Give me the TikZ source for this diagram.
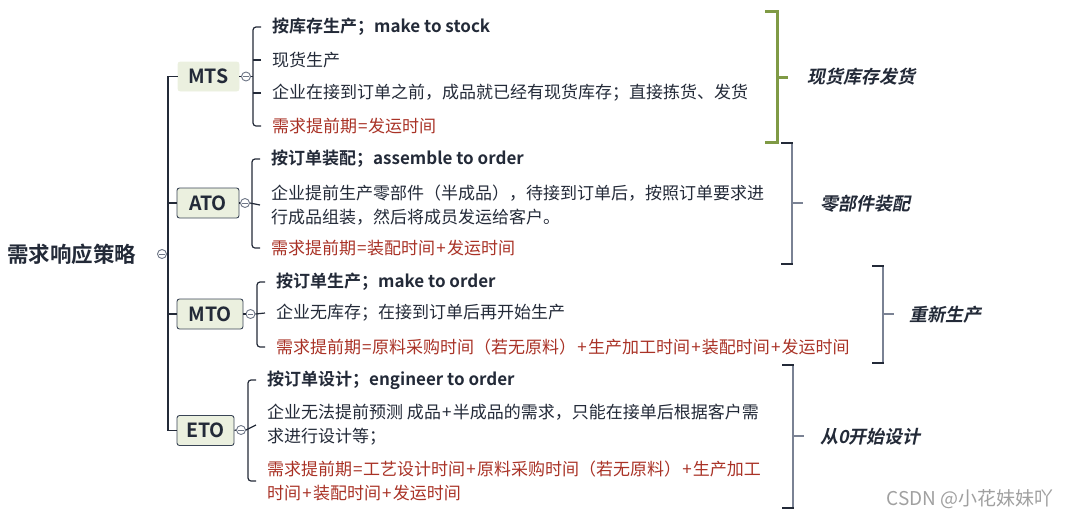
\documentclass[tikz,border=0pt]{standalone}
\usepackage{fontspec}
\setmainfont{Noto Sans CJK SC}[BoldFont={Noto Sans CJK SC Bold}]
\newfontfamily\sumfont{Noto Sans CJK SC Bold}[FakeSlant=0.2]
\usetikzlibrary{calc}
\newcommand\pl{\kern1.2pt+\kern1.2pt}
\newcommand\eq{\kern0.8pt=\kern0.8pt}
\definecolor{txt}{HTML}{232A38}
\definecolor{redtxt}{HTML}{A93226}
\definecolor{boxfill}{HTML}{EBF0DF}
\definecolor{boxline}{HTML}{3A4556}
\definecolor{greenbr}{HTML}{7F9A45}
\definecolor{graybr}{HTML}{7A8294}
\definecolor{collc}{HTML}{6E7686}
\definecolor{wm}{HTML}{A0A0A0}
\begin{document}
\begin{tikzpicture}[x=1pt,y=-1pt,
  ln/.style={draw=txt, line width=1.2pt},
  body/.style={anchor=west, inner sep=0pt, text=txt, align=left, font=\fontsize{17}{24}\selectfont},
  ttl/.style={body, font=\bfseries\fontsize{17}{24}\selectfont},
  redt/.style={body, text=redtxt},
  box/.style={draw=boxline, fill=boxfill, rounded corners=2.5pt, line width=0.9pt, inner sep=0pt, text=txt, font=\bfseries\fontsize{19.5}{20}\selectfont},
  coll/.style={circle, draw=collc, fill=white, line width=0.9pt, minimum size=9pt, inner sep=0pt,
    path picture={\draw[collc, line width=0.9pt] ([xshift=-2.8pt]path picture bounding box.center) -- ([xshift=2.8pt]path picture bounding box.center);}},
  sumt/.style={anchor=west, inner sep=0pt, text=txt, font=\sumfont\fontsize{18}{20}\selectfont},
  capdark/.style={draw=txt, line width=1.2pt},
  vgray/.style={draw=graybr, line width=1.4pt},
  gbr/.style={draw=greenbr, line width=3pt}
]
\useasboundingbox (0,0) rectangle (1071,520);

% root
\node[anchor=west, inner sep=0pt, text=txt, font=\bfseries\fontsize{21.5}{24}\selectfont] (root) at (7,254) {需求响应策略};
\node[coll] (rc) at (162,254) {};
\coordinate (tk) at (168,254);

% category boxes
\node[box, draw=boxfill, minimum width=61pt, minimum height=29pt] (mts) at (208.5,76.5) {MTS};
\node[box, minimum width=62pt, minimum height=30pt] (ato) at (208,203) {ATO};
\node[box, minimum width=66pt, minimum height=30pt] (mto) at (210,314) {MTO};
\node[box, minimum width=57pt, minimum height=30pt] (eto) at (205.5,430.5) {ETO};

% trunk
\draw[ln] (rc.east) -- (tk);
\draw[ln] (mts.west) -- (mts.west -| tk) -- (eto.west -| tk) -- (eto.west);
\draw[ln] (ato.west) -- (ato.west -| tk);
\draw[ln] (mto.west) -- (mto.west -| tk);

% collapse circles
\node[coll] (c1) at (246,76.5) {};
\node[coll] (c2) at (245,203) {};
\node[coll] (c3) at (250.5,314) {};
\node[coll] (c4) at (241,430) {};
\draw[ln] (mts.east) -- (c1.west);
\draw[ln] (ato.east) -- (c2.west);
\draw[ln] (mto.east) -- (c3.west);
\draw[ln] (eto.east) -- (c4.west);

% MTS texts
\node[ttl] (m1) at (272,27) {按库存生产；make to stock};
\node[body] (m2) at (272,60) {现货生产};
\node[body] (m3) at (272,93) {企业在接到订单之前，成品就已经有现货库存；直接拣货、发货};
\node[redt] (m4) at (272,126) {需求提前期\eq 发运时间};
\draw[ln, rounded corners=3pt] ($(m1.west)+(-11,0)$) -- ++(-8,0) |- ($(m4.west)+(-11,0)$);
\draw[ln] ($(m2.west)+(-11,0)$) -- ++(-8,0);
\draw[ln] ($(m3.west)+(-11,0)$) -- ++(-8,0);
\draw[ln] (c1.east) -- (c1.east -| 253,0);

% ATO texts
\node[ttl] (a1) at (271,159) {按订单装配；assemble to order};
\node[body] (a2) at (271,205) {企业提前生产零部件（半成品），待接到订单后，按照订单要求进\\行成品组装，然后将成员发运给客户。};
\node[redt] (a3) at (271,248) {需求提前期\eq 装配时间\pl 发运时间};
\draw[ln, rounded corners=3pt] ($(a1.west)+(-11,0)$) -- ++(-8,0) |- ($(a3.west)+(-11,0)$);
\draw[ln] (c2.east) -- ($(a2.west)+(-11,0)$);

% MTO texts
\node[ttl] (o1) at (276,282) {按订单生产；make to order};
\node[body] (o2) at (276,313) {企业无库存；在接到订单后再开始生产};
\node[redt] (o3) at (276,347) {需求提前期\eq 原料采购时间（若无原料）\pl 生产加工时间\pl 装配时间\pl 发运时间};
\draw[ln, rounded corners=3pt] ($(o1.west)+(-11,0)$) -- ++(-8,0) |- ($(o3.west)+(-11,0)$);
\draw[ln] (c3.east) -- ($(o2.west)+(-11,0)$);

% ETO texts
\node[ttl] (e1) at (267,380) {按订单设计；engineer to order};
\node[body] (e2) at (267,425) {企业无法提前预测 成品\pl 半成品的需求，只能在接单后根据客户需\\求进行设计等；};
\node[redt] (e3) at (267,481) {需求提前期\eq 工艺设计时间\pl 原料采购时间（若无原料）\pl 生产加工\\时间\pl 装配时间\pl 发运时间};
\draw[ln, rounded corners=3pt] ($(e1.west)+(-11,0)$) -- ++(-8,0) |- ($(e3.west)+(-11,0)$);
\draw[ln] (c4.east) -- ($(e2.west)+(-11,0)$);

% summaries
\node[sumt] (s1) at (807,77) {现货库存发货};
\draw[gbr] (765,11) -- (777,11) -- (777,142) -- (765,142);
\draw[gbr] (777,77) -- (788,77);

\node[sumt] (s2) at (820,203.5) {零部件装配};
\draw[vgray] (792,143) -- (792,264);
\draw[capdark] (781,143) -- (792.7,143);
\draw[capdark] (781,264) -- (792.7,264);
\draw[vgray] (792,203) -- (803,203);

\node[sumt] (s3) at (909,315) {重新生产};
\draw[vgray] (883,266) -- (883,363);
\draw[capdark] (872,266) -- (883.7,266);
\draw[capdark] (872,363) -- (883.7,363);
\draw[vgray] (883,314) -- (894,314);

\node[sumt] (s4) at (820,437) {从0开始设计};
\draw[vgray] (793,365) -- (793,508);
\draw[capdark] (782,365) -- (793.7,365);
\draw[capdark] (782,508) -- (793.7,508);
\draw[vgray] (793,436) -- (804,436);

% watermark
\node[anchor=center, inner sep=0pt, text=wm, font=\fontsize{19}{20}\selectfont] (wm) at (970,499) {CSDN @小花妹妹吖};
\end{tikzpicture}
\end{document}
